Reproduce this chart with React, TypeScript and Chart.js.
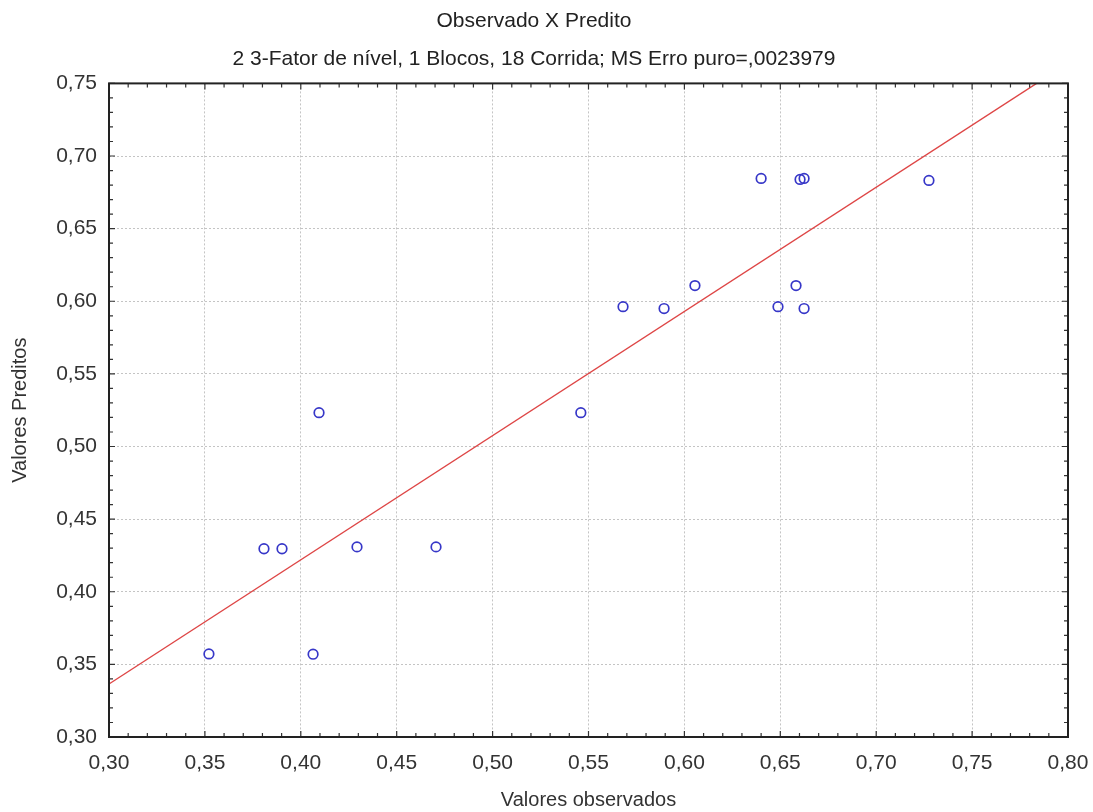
import React, { useEffect, useRef } from "react";
import { Chart, registerables } from "chart.js";

Chart.register(...registerables);

// Observed (x) and predicted (y) values
const observed = [0.3521, 0.3808, 0.3902, 0.4064, 0.4095, 0.4293, 0.4705, 0.546, 0.568, 0.5894, 0.6055, 0.640, 0.6488, 0.6582, 0.6603, 0.6624, 0.6624, 0.7275];
const predicted = [0.3572, 0.4296, 0.4296, 0.357, 0.5233, 0.4309, 0.4309, 0.5233, 0.5963, 0.595, 0.6108, 0.6846, 0.5963, 0.6108, 0.6839, 0.6846, 0.595, 0.6832];

// Fitted line endpoints
const fitX = [0.30, 0.80];
const fitY = [0.3365, 0.764];

const xMin = 0.30, xMax = 0.80, yMin = 0.30, yMax = 0.75, stepMajor = 0.05;

const titleText = "Observado X Predito";
const subtitleText = "2 3-Fator de nível, 1 Blocos, 18 Corrida; MS Erro puro=,0023979";
const xTitle = "Valores observados";
const yTitle = "Valores Preditos";

const FONT = "'Liberation Sans', Arial, sans-serif";
const fmt = (v: number) => Number(v).toFixed(2).replace(".", ",");

const framePlugin = {
  id: "frame",
  afterDatasetsDraw(chart: any) {
    const { ctx, chartArea: a, scales } = chart;
    const xs = scales.x, ys = scales.y;
    ctx.save();
    ctx.strokeStyle = "#333";
    ctx.lineWidth = 1.2;
    ctx.beginPath();
    for (let i = 30; i <= 80; i++) {
      const px = xs.getPixelForValue(i / 100);
      const len = i % 5 === 0 ? 6 : 4;
      ctx.moveTo(px, a.bottom);
      ctx.lineTo(px, a.bottom - len);
      ctx.moveTo(px, a.top);
      ctx.lineTo(px, a.top + len);
    }
    for (let i = 30; i <= 75; i++) {
      const py = ys.getPixelForValue(i / 100);
      const len = i % 5 === 0 ? 6 : 4;
      ctx.moveTo(a.left, py);
      ctx.lineTo(a.left + len, py);
      ctx.moveTo(a.right, py);
      ctx.lineTo(a.right - len, py);
    }
    ctx.stroke();
    ctx.lineWidth = 2;
    ctx.strokeStyle = "#222";
    ctx.strokeRect(a.left, a.top, a.right - a.left, a.bottom - a.top);
    ctx.restore();
  },
};

export default function App() {
  const ref = useRef<HTMLCanvasElement>(null);
  useEffect(() => {
    if (!ref.current) return;
    const chart = new Chart(ref.current, {
      type: "scatter",
      data: {
        datasets: [
          {
            type: "line",
            data: fitX.map((x, i) => ({ x, y: fitY[i] })),
            borderColor: "rgb(222,70,70)",
            borderWidth: 1.4,
            pointRadius: 0,
            fill: false,
            order: 2,
          } as any,
          {
            type: "scatter",
            data: observed.map((x, i) => ({ x, y: predicted[i] })),
            pointStyle: "circle",
            pointRadius: 4.8,
            pointBorderWidth: 1.7,
            pointBorderColor: "rgb(55,55,200)",
            pointBackgroundColor: "rgba(0,0,0,0)",
            borderColor: "rgb(55,55,200)",
            backgroundColor: "rgba(0,0,0,0)",
            order: 1,
          } as any,
        ],
      },
      options: {
        responsive: false,
        animation: false,
        layout: { padding: { left: 0, right: 25, top: 0, bottom: 0 } },
        plugins: {
          legend: { display: false },
          tooltip: { enabled: false },
          title: {
            display: true,
            text: titleText,
            color: "#222",
            font: { family: FONT, size: 21, weight: "normal" },
            padding: { top: 9, bottom: 0 },
          },
          subtitle: {
            display: true,
            text: subtitleText,
            color: "#222",
            font: { family: FONT, size: 21, weight: "normal" },
            padding: { top: 12, bottom: 12 },
          },
        },
        scales: {
          x: {
            type: "linear",
            min: xMin,
            max: xMax,
            afterFit: (s: any) => { s.height = 75; s.paddingLeft = 0; s.paddingRight = 0; },
            ticks: {
              stepSize: stepMajor,
              color: "#333",
              padding: 14,
              font: { family: FONT, size: 21 },
              callback: (v: any) => fmt(v),
            },
            grid: { color: "#c4c4c4", lineWidth: 1, drawTicks: false },
            border: { display: false, dash: [2, 2] },
            title: {
              display: true,
              text: xTitle,
              color: "#333",
              font: { family: FONT, size: 20 },
              padding: { top: 0, bottom: 0 },
            },
          },
          y: {
            type: "linear",
            min: yMin,
            max: yMax,
            afterFit: (s: any) => { s.width = 109; s.paddingTop = 0; s.paddingBottom = 0; },
            ticks: {
              stepSize: stepMajor,
              color: "#333",
              padding: 12,
              font: { family: FONT, size: 21 },
              callback: (v: any) => fmt(v),
            },
            grid: { color: "#c4c4c4", lineWidth: 1, drawTicks: false },
            border: { display: false, dash: [2, 2] },
            title: {
              display: true,
              text: yTitle,
              color: "#333",
              font: { family: FONT, size: 20 },
              padding: { top: 8, bottom: 0 },
            },
          },
        },
      },
      plugins: [framePlugin],
    });
    return () => chart.destroy();
  }, []);
  return (
    <canvas
      ref={ref}
      width={1093}
      height={812}
      style={{ position: "absolute", left: 0, top: 0, display: "block", background: "#fff" }}
    />
  );
}
